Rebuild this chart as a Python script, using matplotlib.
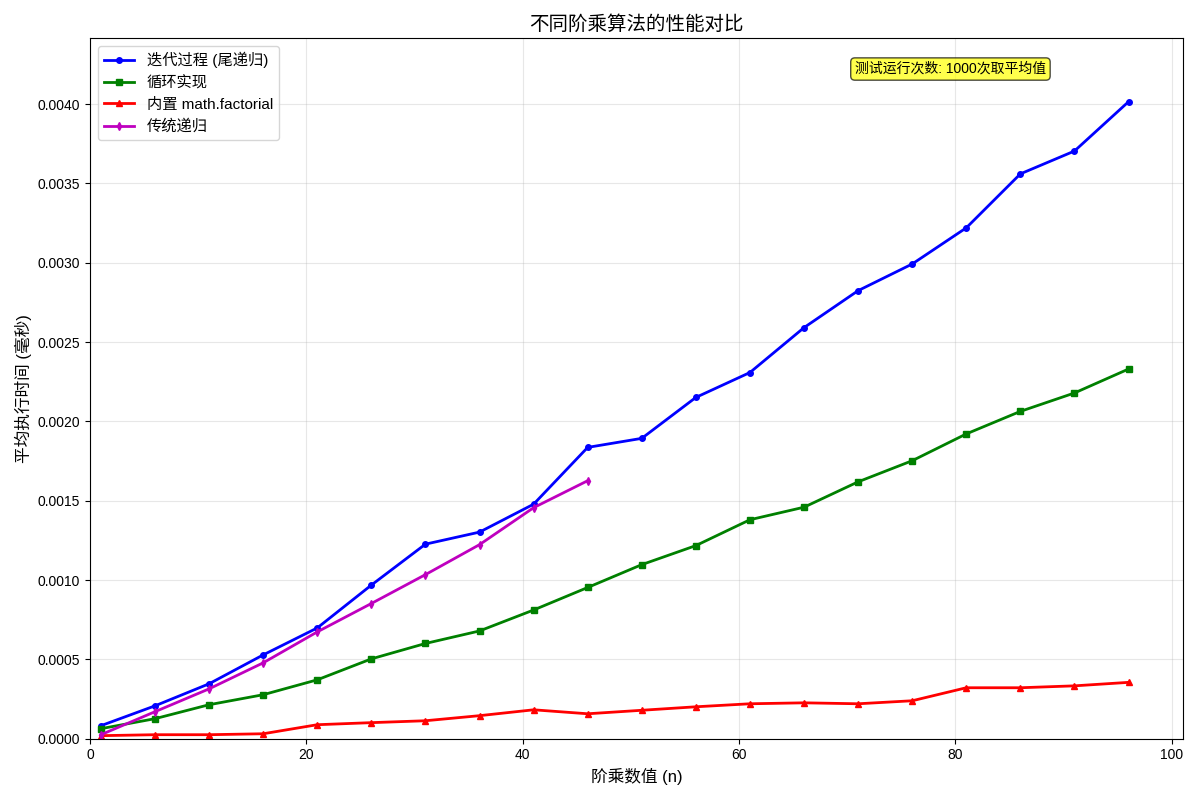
import numpy as np
import matplotlib
matplotlib.use("Agg")
import matplotlib.pyplot as plt

plt.rcParams['font.family'] = ['Liberation Sans', 'Noto Sans CJK SC', 'DejaVu Sans']
plt.rcParams['axes.unicode_minus'] = False

n_values = list(range(1, 97, 5))
n_recursive = list(range(1, 47, 5))

tail_times = [0.0000818, 0.000207, 0.000346, 0.000528, 0.000698, 0.000968, 0.001226, 0.001302, 0.001478, 0.001836,
              0.001893, 0.002151, 0.002308, 0.002591, 0.002824, 0.002992, 0.003220, 0.003560, 0.003704, 0.004015]
loop_times = [0.000063, 0.000126, 0.000214, 0.000277, 0.000371, 0.000503, 0.000600, 0.000679, 0.000811, 0.000953,
              0.001097, 0.001217, 0.001380, 0.001459, 0.001619, 0.001752, 0.001921, 0.002063, 0.002179, 0.002330]
builtin_times = [0.000019, 0.000025, 0.000025, 0.000031, 0.000088, 0.000101, 0.000113, 0.000145, 0.000182, 0.000157,
                 0.000179, 0.000201, 0.000220, 0.000226, 0.000220, 0.000239, 0.000321, 0.000321, 0.000333, 0.000355]
recursive_times = [0.000025, 0.000170, 0.000314, 0.000478, 0.000673, 0.000852, 0.001034, 0.001223, 0.001456, 0.001626]

labels = ["迭代过程 (尾递归)", "循环实现", "内置 math.factorial", "传统递归"]

fig, ax = plt.subplots(figsize=(12, 8), dpi=100)
ax.plot(n_values, tail_times, "b-o", linewidth=2, markersize=4, label=labels[0])
ax.plot(n_values, loop_times, "g-s", linewidth=2, markersize=4, label=labels[1])
ax.plot(n_values, builtin_times, "r-^", linewidth=2, markersize=4, label=labels[2])
ax.plot(n_recursive, recursive_times, "m-d", linewidth=2, markersize=4, label=labels[3])

ax.set_xlabel("阶乘数值 (n)", fontsize=12)
ax.set_ylabel("平均执行时间 (毫秒)", fontsize=12)
ax.set_title("不同阶乘算法的性能对比", fontsize=14)
ax.legend(loc="upper left", fontsize=11)
ax.grid(True, alpha=0.3)
ax.set_xlim(0, 101)
ax.set_ylim(0, max(tail_times) * 1.1)

ax.text(0.7, 0.95, "测试运行次数: 1000次取平均值", transform=ax.transAxes, fontsize=10,
        bbox=dict(boxstyle="round", facecolor="yellow", alpha=0.7))

plt.tight_layout()
plt.savefig("out.png")
